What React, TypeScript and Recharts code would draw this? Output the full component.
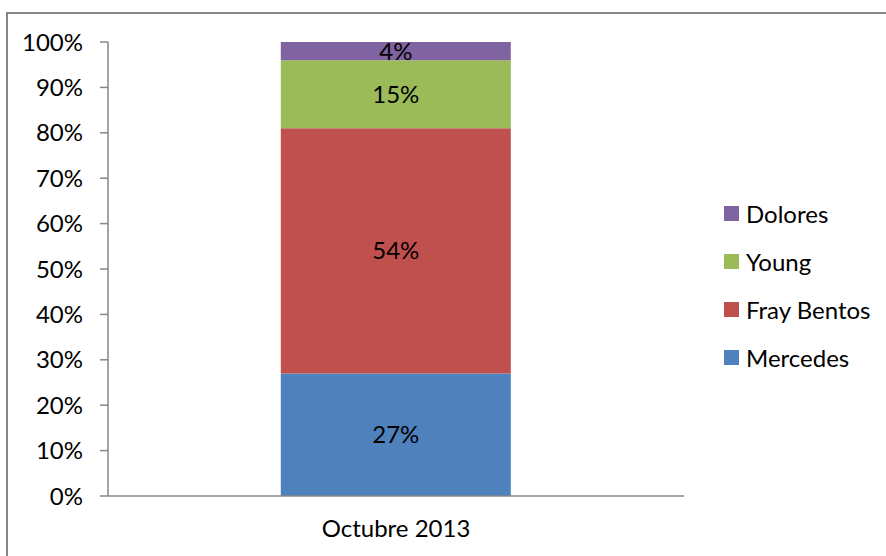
import React from 'react';
import {
  BarChart,
  Bar,
  XAxis,
  YAxis,
  Legend,
  LabelList,
} from 'recharts';

// Categories and series values (percent of total)
const categories = ['Octubre 2013'];
const mercedes = [27];
const frayBentos = [54];
const young = [15];
const dolores = [4];
const yTicks = [0, 10, 20, 30, 40, 50, 60, 70, 80, 90, 100];

const SERIES = [
  { key: 'Mercedes', color: '#4F81BD', values: mercedes },
  { key: 'Fray Bentos', color: '#C0504D', values: frayBentos },
  { key: 'Young', color: '#9BBB59', values: young },
  { key: 'Dolores', color: '#8064A2', values: dolores },
];

const data = categories.map((name, i) => {
  const row: Record<string, string | number> = { name };
  SERIES.forEach((s) => {
    row[s.key] = s.values[i];
  });
  return row;
});

const FONT = 'Lato, "Open Sans", sans-serif';
const FONT_SIZE = 24;
const AXIS_GRAY = '#868686';

// Legend drawn top-to-bottom in reverse stacking order
const LegendContent = () => (
  <div style={{ fontFamily: FONT, fontSize: FONT_SIZE, color: '#000' }}>
    {[...SERIES].reverse().map((s) => (
      <div
        key={s.key}
        style={{ display: 'flex', alignItems: 'center', height: 48 }}
      >
        <span
          style={{
            display: 'inline-block',
            width: 15,
            height: 15,
            background: s.color,
            marginRight: 7,
          }}
        />
        <span>{s.key}</span>
      </div>
    ))}
  </div>
);

export default function App() {
  return (
    <div
      style={{
        position: 'absolute',
        left: 0,
        top: 0,
        width: 886,
        height: 556,
        background: '#fff',
        overflow: 'hidden',
      }}
    >
      <div
        style={{
          position: 'absolute',
          left: 6,
          top: 12,
          width: 900,
          height: 600,
          borderLeft: `2px solid ${AXIS_GRAY}`,
          borderTop: `2px solid ${AXIS_GRAY}`,
        }}
      />
      <BarChart
        width={886}
        height={556}
        data={data}
        margin={{ top: 42, right: 40, bottom: 0, left: 0 }}
        barCategoryGap="30%"
        style={{ position: 'absolute', left: 0, top: 0, fontFamily: FONT }}
      >
        {/* tick marks at the category boundaries, like the original */}
        <XAxis
          xAxisId="frame"
          type="number"
          domain={[0, 1]}
          ticks={[0, 1]}
          tickFormatter={() => ''}
          axisLine={false}
          tickLine={{ stroke: AXIS_GRAY, strokeWidth: 1.5 }}
          tickSize={8}
          height={0}
          allowDataOverflow
        />
        <XAxis
          dataKey="name"
          height={60}
          axisLine={{ stroke: AXIS_GRAY, strokeWidth: 1.5 }}
          tickLine={false}
          tickSize={8}
          tickMargin={16}
          tick={{ fill: '#000', fontSize: FONT_SIZE }}
        />
        <YAxis
          type="number"
          domain={[0, 100]}
          ticks={yTicks}
          tickFormatter={(v: number) => `${v}%`}
          width={108}
          axisLine={{ stroke: AXIS_GRAY, strokeWidth: 1.5 }}
          tickLine={{ stroke: AXIS_GRAY, strokeWidth: 1.5 }}
          tickSize={8}
          tickMargin={17}
          tick={{ fill: '#000', fontSize: FONT_SIZE }}
          interval={0}
        />
        <Legend
          layout="vertical"
          align="right"
          verticalAlign="middle"
          width={162}
          content={<LegendContent />}
          wrapperStyle={{ position: 'absolute', left: 724, top: 189, width: 162 }}
        />
        {SERIES.map((s) => (
          <Bar
            key={s.key}
            dataKey={s.key}
            stackId="a"
            fill={s.color}
            isAnimationActive={false}
          >
            <LabelList
              dataKey={s.key}
              position="center"
              formatter={(v: number) => `${v}%`}
              style={{ fill: '#000', fontSize: FONT_SIZE, fontFamily: FONT }}
            />
          </Bar>
        ))}
      </BarChart>
    </div>
  );
}
